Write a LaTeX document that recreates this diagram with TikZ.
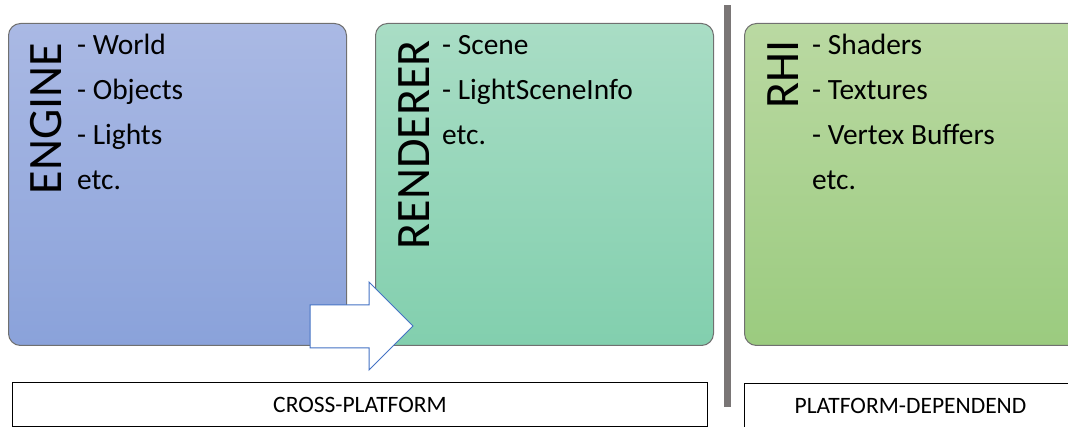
\documentclass[tikz,border=0pt]{standalone}
\usepackage{fontspec}
\setmainfont{Carlito}
\definecolor{engTop}{HTML}{AAB9E4}
\definecolor{engBot}{HTML}{8AA2DA}
\definecolor{renTop}{HTML}{A9DDC5}
\definecolor{renBot}{HTML}{82CFAE}
\definecolor{rhiTop}{HTML}{BAD9A2}
\definecolor{rhiBot}{HTML}{9BCB7F}
\definecolor{panelEdge}{HTML}{707070}
\definecolor{divider}{HTML}{7A7676}
\definecolor{arrowEdge}{HTML}{4472C4}
\tikzset{
  panel/.style={draw=panelEdge, line width=1pt, rounded corners=12pt,
    minimum width=338pt, minimum height=322pt, anchor=north west, inner sep=0pt},
  paneltitle/.style={rotate=90, anchor=north east, inner sep=0pt,
    font=\fontsize{48}{48}\selectfont},
  item/.style={anchor=base west, inner sep=0pt, font=\fontsize{29.4}{30}\selectfont},
  footbox/.style={draw=black, line width=1pt, anchor=north west, minimum height=44pt,
    inner sep=0pt, font=\fontsize{23.5}{24}\selectfont},
}
\begin{document}
\begin{tikzpicture}[x=1pt,y=-1pt]
  \useasboundingbox (0,0) rectangle (1068,427);
  \clip (0,0) rectangle (1068,427);

  % layer panels
  \node[panel, top color=engTop, bottom color=engBot] (engine) at (8,23) {};
  \node[panel, top color=renTop, bottom color=renBot] (renderer) at (375,23) {};
  \node[panel, top color=rhiTop, bottom color=rhiBot] (rhi) at (744,23) {};

  % vertical titles
  \node[paneltitle] (engineTitle) at (30,43) {ENGINE};
  \node[paneltitle] (rendererTitle) at (398,40) {RENDERER};
  \node[paneltitle] (rhiTitle) at (767,40) {RHI};

  % engine contents
  \node[item] (e1) at (77,55) {- World};
  \node[item] (e2) at (77,100) {- Objects};
  \node[item] (e3) at (77,145) {- Lights};
  \node[item] (e4) at (77,190) {etc.};

  % renderer contents
  \node[item] (r1) at (442,55) {- Scene};
  \node[item] (r2) at (442,100) {- LightSceneInfo};
  \node[item] (r3) at (442,145) {etc.};

  % RHI contents
  \node[item] (h1) at (812,55) {- Shaders};
  \node[item] (h2) at (812,100) {- Textures};
  \node[item] (h3) at (812,145) {- Vertex Buffers};
  \node[item] (h4) at (812,190) {etc.};

  % block arrow from engine into renderer
  \draw[draw=arrowEdge, fill=white, line width=1pt, line join=miter]
    (310,305) -- (369,305) -- (369,282) -- (413,326) -- (369,370) -- (369,348) -- (310,348) -- cycle;

  % platform split
  \fill[divider] (724,5) rectangle (731,407);

  % footers
  \node[footbox, minimum width=695pt] (cross) at (12,382) {CROSS-PLATFORM};
  \node[footbox, minimum width=332pt] (dep) at (744,383) {PLATFORM-DEPENDEND};
\end{tikzpicture}
\end{document}
